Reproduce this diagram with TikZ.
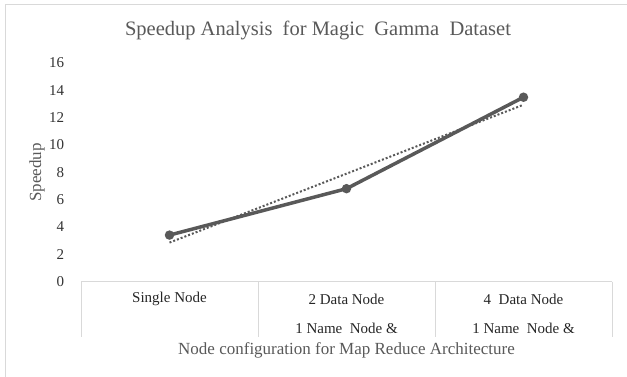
\documentclass[tikz,border=0pt]{standalone}
\usepackage{fontspec}
\setmainfont{Liberation Serif}

\definecolor{axisgray}{HTML}{595959}
\definecolor{framegray}{HTML}{D9D9D9}

\tikzset{
	ticklabel/.style={anchor=east, text=black!80, font=\fontsize{15}{18}\selectfont},
	catlabel/.style={text=black!85, font=\fontsize{15}{18}\selectfont},
	axistitle/.style={text=axisgray, font=\fontsize{17}{20}\selectfont},
	charttitle/.style={text=axisgray, font=\fontsize{20.5}{24}\selectfont},
	gridline/.style={draw=framegray, line width=1pt},
	series/.style={draw=axisgray, line width=3.5pt, line join=round},
	trend/.style={draw=axisgray, line width=2pt, dash pattern=on 2pt off 2pt},
	marker/.style={circle, fill=axisgray, inner sep=0pt, minimum size=9.5pt}
}

\begin{document}
\begin{tikzpicture}[x=1pt,y=-1pt]
\useasboundingbox (0,0) rectangle (627,377);
\draw [gridline] (5,377) -- (5,5) -- (627,5);
\node [charttitle] (title) at (318,30) {Speedup Analysis\ \ for Magic\ \ Gamma\ \ Dataset};

\begin{scope}[shift={(81,281.5)}, x=177pt, y=13.65pt]
\draw [gridline] (0,0) -- (3,0);
\foreach \i in {0,...,3} {
	\draw [gridline] (\i,0) -- (\i,-4.07);
}
\foreach \v in {0,2,...,16} {
	\node [ticklabel] (tick\v) at (-0.075,\v) {\v};
}
\node [axistitle, rotate=90] (ytitle) at (-0.249,8) {Speedup};

\node [catlabel] (cat1) at (0.5,-1.28) {Single Node};
\node [catlabel] (cat2) at (1.5,-1.28) {2 Data Node};
\node [catlabel] (cat2b) at (1.5,-3.41) {1 Name\ \ Node \&};
\node [catlabel] (cat3) at (2.5,-1.28) {4\ \ Data Node};
\node [catlabel] (cat3b) at (2.5,-3.41) {1 Name\ \ Node \&};
\node [axistitle] (xtitle) at (1.5,-5.02) {Node configuration for Map Reduce Architecture};

\coordinate (t1) at (0.5,2.85);
\coordinate (t3) at (2.5,12.95);
\draw [trend] (t1) -- (t3);

\node [marker] (p1) at (0.5,3.4) {};
\node [marker] (p2) at (1.5,6.8) {};
\node [marker] (p3) at (2.5,13.5) {};
\draw [series] (p1.center) -- (p2.center) -- (p3.center);
\end{scope}
\end{tikzpicture}
\end{document}
